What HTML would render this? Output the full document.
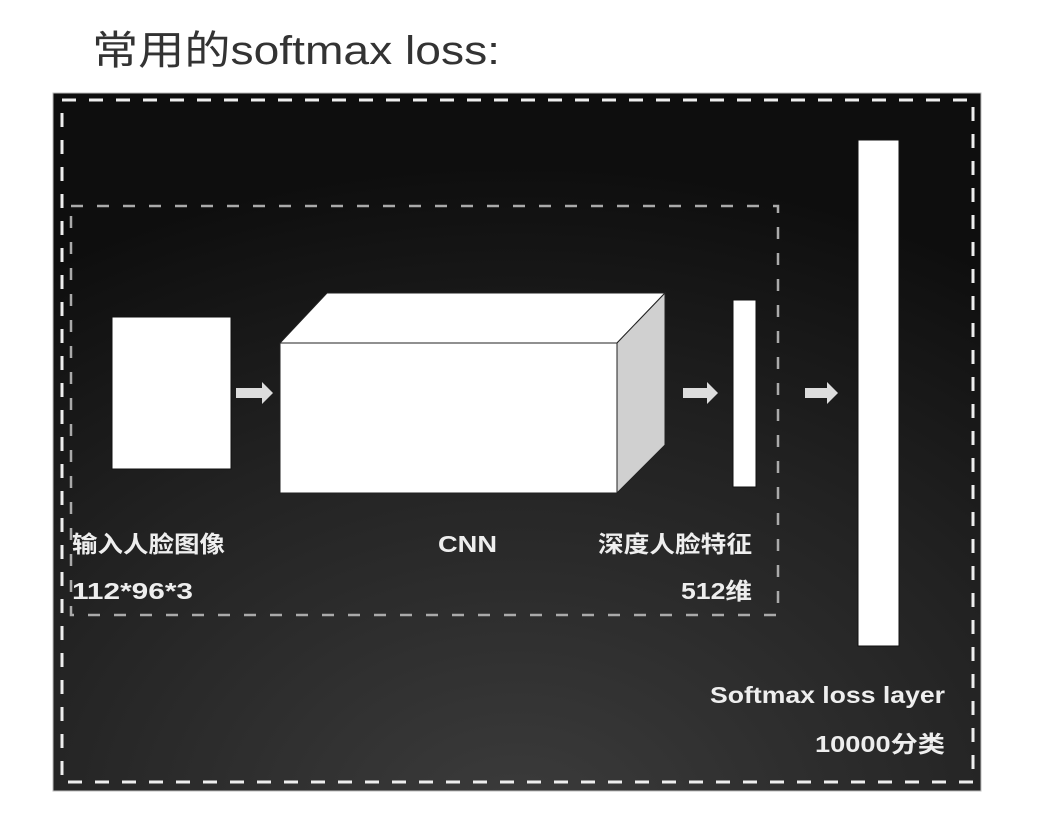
<!DOCTYPE html>
<html><head><meta charset="utf-8"><style>
html,body{margin:0;padding:0;background:#fff;width:1056px;height:822px;overflow:hidden}
</style></head><body>
<svg width="1056" height="822" xmlns="http://www.w3.org/2000/svg">
<defs>
<radialGradient id="bg" cx="0.5" cy="1.05" r="0.95">
<stop offset="0" stop-color="#3c3c3c"/><stop offset="0.6" stop-color="#222"/><stop offset="1" stop-color="#0e0e0e"/>
</radialGradient>
</defs>
<text x="92" y="64" font-family="Liberation Sans, Noto Sans CJK SC, sans-serif" font-size="40" fill="#333" textLength="408" lengthAdjust="spacingAndGlyphs">常用的softmax loss:</text>
<rect x="53" y="93" width="928" height="698" fill="url(#bg)" stroke="#bbb" stroke-width="1"/>
<rect x="62" y="100" width="911" height="682" fill="none" stroke="#eee" stroke-width="3" stroke-dasharray="14,13"/>
<rect x="71" y="206" width="707" height="409" fill="none" stroke="#aaa" stroke-width="2.5" stroke-dasharray="12,14"/>
<rect x="112" y="317" width="119" height="152" fill="#fff" stroke="#111"/>
<polygon points="280,343 327,293 665,293 617,343" fill="#fff" stroke="#222"/>
<polygon points="617,343 665,293 665,445 617,493" fill="#d0d0d0" stroke="#222"/>
<rect x="280" y="343" width="337" height="150" fill="#fff" stroke="#222"/>
<rect x="733" y="300" width="23" height="187" fill="#fff" stroke="#111"/>
<rect x="858" y="140" width="41" height="506" fill="#fff" stroke="#111"/>
<g fill="#ddd">
<polygon points="236,388 262,388 262,382 273,393 262,404 262,398 236,398"/>
<polygon points="683,388 707,388 707,382 718,393 707,404 707,398 683,398"/>
<polygon points="805,388 827,388 827,382 838,393 827,404 827,398 805,398"/>
</g>
<g font-family="Liberation Sans, Noto Sans CJK SC, sans-serif" font-size="23" font-weight="bold" fill="#eee" lengthAdjust="spacingAndGlyphs">
<text x="72" y="552" textLength="153" lengthAdjust="spacingAndGlyphs">输入人脸图像</text>
<text x="72" y="599" textLength="121" lengthAdjust="spacingAndGlyphs">112*96*3</text>
<text x="438" y="552" textLength="59" lengthAdjust="spacingAndGlyphs">CNN</text>
<text x="598" y="552" textLength="154" lengthAdjust="spacingAndGlyphs">深度人脸特征</text>
<text x="681" y="599" textLength="71" lengthAdjust="spacingAndGlyphs">512维</text>
<text x="710" y="703" textLength="235" lengthAdjust="spacingAndGlyphs">Softmax loss layer</text>
<text x="815" y="752" textLength="130" lengthAdjust="spacingAndGlyphs">10000分类</text>
</g>
</svg>
</body></html>
